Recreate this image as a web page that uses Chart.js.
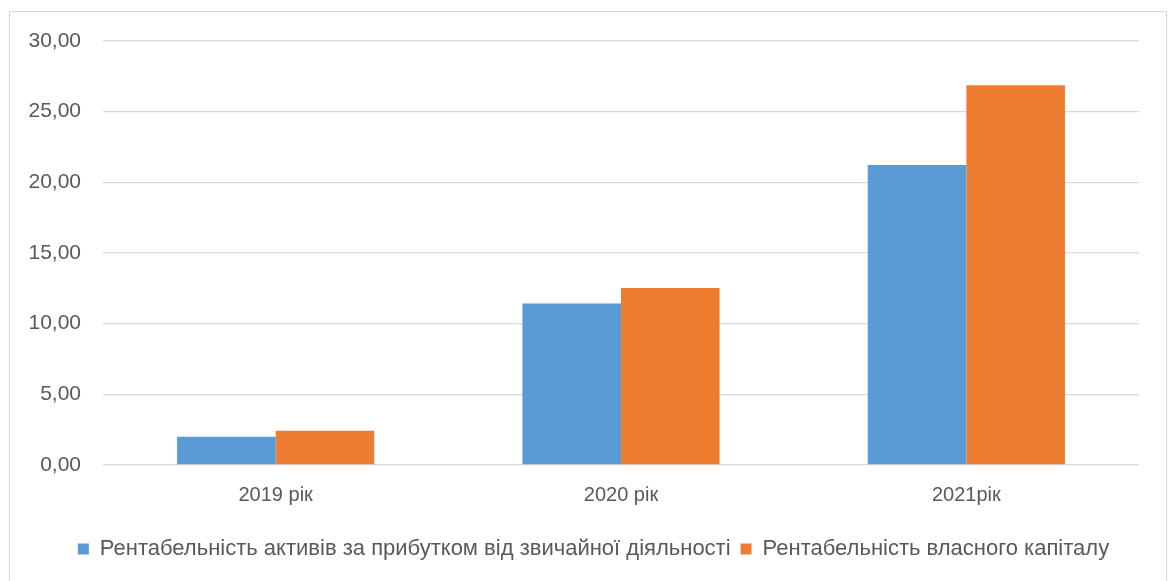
<!DOCTYPE html>
<html>
<head>
<meta charset="utf-8">
<script src="https://cdn.jsdelivr.net/npm/chart.js@4/dist/chart.umd.min.js"></script>
<style>
  html, body { margin: 0; padding: 0; background: #ffffff; overflow: hidden; }
  #wrap { position: relative; width: 1168px; height: 581px; }
  #frame { position: absolute; left: 9px; top: 11px; width: 1158px; height: 620px; border: 1px solid #d9d9d9; box-sizing: border-box; }
  canvas { position: absolute; left: 0; top: 0; }
</style>
</head>
<body>
<div id="wrap">
  <div id="frame"></div>
  <canvas id="c" width="1168" height="581"></canvas>
</div>
<script>
const categories = ['2019 рік', '2020 рік', '2021рік'];
const seriesNames = ['Рентабельність активів за прибутком від звичайної діяльності', 'Рентабельність власного капіталу'];
const assetsReturn = [2.00, 11.42, 21.23];
const equityReturn = [2.43, 12.53, 26.87];
const yTicks = [0, 5, 10, 15, 20, 25, 30];

const FONT = "'Liberation Sans', Arial, sans-serif";
const TEXT = '#595959';

const shiftLegend = {
  id: 'shiftLegend',
  afterLayout(chart) {
    const lg = chart.legend;
    if (lg) { lg.left += 14; lg.right += 14; }
  }
};

new Chart(document.getElementById('c'), {
  type: 'bar',
  data: {
    labels: categories,
    datasets: [
      { label: seriesNames[0], data: assetsReturn, backgroundColor: '#5B9BD5', borderWidth: 0 },
      { label: seriesNames[1], data: equityReturn, backgroundColor: '#ED7D31', borderWidth: 0 }
    ]
  },
  plugins: [shiftLegend],
  options: {
    responsive: false,
    animation: false,
    devicePixelRatio: 1,
    layout: { padding: { left: 20, right: 29, top: 41, bottom: 11 } },
    datasets: { bar: { categoryPercentage: 0.571, barPercentage: 1.0 } },
    scales: {
      x: {
        grid: { display: false, drawTicks: false },
        border: { display: false },
        ticks: { color: TEXT, font: { family: FONT, size: 20 }, padding: 18, maxRotation: 0 },
        afterFit: (s) => { s.height = 63; }
      },
      y: {
        min: 0, max: 30,
        afterBuildTicks: (s) => { s.ticks = yTicks.map(v => ({ value: v })); },
        grid: { color: '#d9d9d9', lineWidth: 1.3, drawTicks: false },
        border: { display: false },
        ticks: {
          color: TEXT, font: { family: FONT, size: 21 }, padding: 22,
          callback: (v) => Number(v).toFixed(2).replace('.', ',')
        },
        afterFit: (s) => { s.width = 83; }
      }
    },
    plugins: {
      tooltip: { enabled: false },
      legend: {
        position: 'bottom',
        labels: {
          color: TEXT, font: { family: FONT, size: 22 },
          boxWidth: 11, boxHeight: 11, padding: 10
        }
      }
    }
  }
});
</script>
</body>
</html>
